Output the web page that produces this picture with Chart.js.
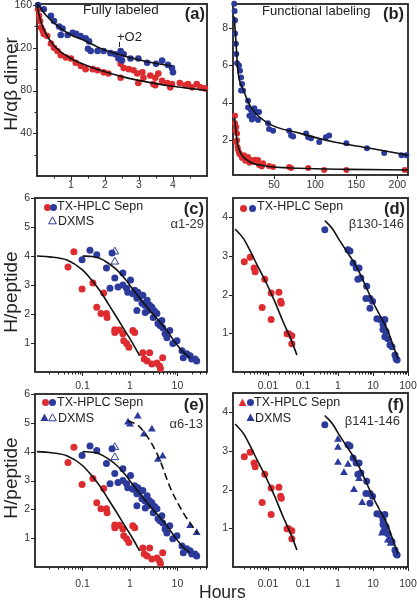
<!DOCTYPE html>
<html><head><meta charset="utf-8">
<script src="https://cdn.jsdelivr.net/npm/chart.js@4.4.1/dist/chart.umd.min.js"></script>
<style>
body{margin:0;background:#fff;}
#wrap{position:relative;width:417px;height:600px;overflow:hidden;font-family:"Liberation Sans",Arial,sans-serif;color:#222;}
canvas{position:absolute;left:0;top:0;}
.t{position:absolute;white-space:nowrap;line-height:1;}
.b{font-weight:bold;font-size:16.5px;}
.lg{font-size:12.5px;}
.pep{font-size:13px;color:#333;}
.ax{position:absolute;white-space:nowrap;line-height:1;font-size:19px;transform:translate(-50%,-50%) rotate(-90deg);}
.dot{position:absolute;width:7px;height:7px;border-radius:50%;margin:-3.5px 0 0 -3.5px;}
svg{position:absolute;overflow:visible;}
</style></head>
<body>
<div id="wrap">
<canvas id="ca" width="417" height="600"></canvas>
<canvas id="cb" width="417" height="600"></canvas>
<canvas id="cc" width="417" height="600"></canvas>
<canvas id="cd" width="417" height="600"></canvas>
<canvas id="ce" width="417" height="600"></canvas>
<canvas id="cf" width="417" height="600"></canvas>

<div class="ax" style="left:10px;top:84px">H/αβ dimer</div>
<div class="ax" style="left:10px;top:292px">H/peptide</div>
<div class="ax" style="left:10px;top:478px">H/peptide</div>
<div class="t" style="left:199px;top:584px;font-size:17.5px">Hours</div>

<div class="t" style="left:83px;top:3px;font-size:13.5px">Fully labeled</div>
<div class="t b" style="right:212px;top:5px">(a)</div>
<div class="t" style="left:117px;top:30px;font-size:13px">+O2</div>
<div style="position:absolute;left:119px;top:42px;width:1px;height:5px;background:#222"></div>

<div class="t" style="left:262px;top:4px;font-size:13px">Functional labeling</div>
<div class="t b" style="right:13px;top:5px">(b)</div>

<div class="dot" style="left:47px;top:207px;background:#dd2c2f"></div>
<div class="dot" style="left:53px;top:207px;background:#2c3a9c"></div>
<div class="t lg" style="left:57px;top:200px">TX-HPLC Sepn</div>
<svg style="left:48px;top:216px" width="9" height="9"><polygon points="4.5,0.8 8.3,7.8 0.7,7.8" fill="none" stroke="#2c3a9c" stroke-width="1"/></svg>
<div class="t lg" style="left:58px;top:215px">DXMS</div>
<div class="t b" style="right:213px;top:200px">(c)</div>
<div class="t pep" style="right:213px;top:217px">α1-29</div>

<div class="dot" style="left:243px;top:208px;background:#dd2c2f"></div>
<div class="dot" style="left:252px;top:208px;background:#2c3a9c"></div>
<div class="t lg" style="left:257px;top:200px">TX-HPLC Sepn</div>
<div class="t b" style="right:12px;top:200px">(d)</div>
<div class="t pep" style="right:13px;top:217px">β130-146</div>

<div class="dot" style="left:45px;top:402px;background:#dd2c2f"></div>
<div class="dot" style="left:52px;top:402px;background:#2c3a9c"></div>
<div class="t lg" style="left:57px;top:396px">TX-HPLC Sepn</div>
<svg style="left:40px;top:413px" width="9" height="9"><polygon points="4.5,0.5 8.5,8 0.5,8" fill="#2c3a9c"/></svg>
<svg style="left:48px;top:413px" width="9" height="9"><polygon points="4.5,0.8 8.3,7.8 0.7,7.8" fill="none" stroke="#2c3a9c" stroke-width="1"/></svg>
<div class="t lg" style="left:58px;top:412px">DXMS</div>
<div class="t b" style="right:213px;top:396px">(e)</div>
<div class="t pep" style="right:214px;top:417px">α6-13</div>

<svg style="left:238px;top:398px" width="9" height="9"><polygon points="4.5,0.5 8.5,8 0.5,8" fill="#dd2c2f"/></svg>
<div class="dot" style="left:250px;top:402px;background:#2c3a9c"></div>
<div class="t lg" style="left:254px;top:396px">TX-HPLC Sepn</div>
<svg style="left:246px;top:413px" width="9" height="9"><polygon points="4.5,0.5 8.5,8 0.5,8" fill="#2c3a9c"/></svg>
<div class="t lg" style="left:255px;top:412px">DXMS</div>
<div class="t b" style="right:13px;top:396px">(f)</div>
<div class="t pep" style="right:17px;top:414px">β141-146</div>
</div>

<script>
const RED = '#dd2c2f';
const BLUE = '#2c3a9c';
const FONT = '"Liberation Sans", Arial, sans-serif';

// (a) fully labeled, hours vs H per dimer
const aBlue = [[0.03,160],[0.2,156],[0.41,150],[0.5,145],[0.65,140],[0.75,138],[0.7,132],[0.9,132],[1.05,134],[1.15,133],[1.28,131],[1.43,129],[1.53,126],[1.5,119],[1.58,117],[1.78,117],[1.96,117],[2.16,115],[2.3,114],[2.46,117],[2.55,114],[2.4,110],[2.5,108],[2.75,110],[2.98,110],[3.24,106],[3.5,105],[3.68,108],[3.85,104],[3.97,101],[4.0,97]];
const aRed = [[0.03,156],[0.06,150],[0.09,145],[0.12,139],[0.17,136],[0.2,133],[0.3,131],[0.41,124],[0.5,120],[0.6,117],[0.7,113],[0.85,111],[1.0,110],[1.14,106],[1.29,103],[1.43,100],[1.64,100],[1.78,99],[1.96,97],[2.1,96],[2.46,92],[2.98,87],[3.48,85],[3.92,83],
  [2.4,110],[2.46,105],[2.55,101],[2.7,100],[2.84,99],[2.95,96],[3.1,97],[3.13,92],[3.33,94],[3.48,92],[3.57,96],[3.68,89],[3.42,86],[3.83,87],[3.97,86],[4.2,87],[4.36,85],[4.44,86],[4.56,83],[4.7,86],[4.8,83],[4.94,82]];
const aFitBlue = [[0,162],[0.25,151],[0.55,142],[1,132],[1.38,127],[1.9,119],[2.4,114],[2.84,110],[3.4,106],[3.97,103]];
const aFitRed = [[0,160],[0.1,146],[0.25,134],[0.5,122],[1,110],[1.5,103],[2,97.5],[2.5,93],[3,89.5],[3.5,86.5],[4,84],[4.5,82],[5,80]];

// (b) functional labeling
const bBlue = [[1.5,9.28],[2,8.9],[2.5,8.4],[2.5,7.7],[3.5,7.15],[4,6.6],[5,6.1],[7.3,5.98],[8.5,5.7],[9.8,5.35],[11,5.0],[9.8,4.65],[12.2,4.65],[18.3,4.1],[18.3,3.75],[20,3.3],[22,3.6],[23,3.1],[24.4,3.4],[25.6,3.2],[26,3.7],[28,3.5],[31.7,3.5],[30.5,3.07],[42.7,2.9],[43.9,2.6],[48.8,2.5],[68.3,2.5],[70.7,2.25],[73.2,2.2],[89,2.35],[91.5,2.15],[95,2.1],[105,1.9],[113,2.15],[117,2.25],[138,1.83],[163,1.57],[184,1.32],[205,1.2],[211,1.2]];
const bRed = [[2.5,3.3],[2.5,2.9],[3,2.5],[4,2.7],[5,2.35],[3.5,1.9],[5,2.0],[5.5,1.63],[6,1.5],[7.3,1.36],[8,1.25],[9.8,1.2],[11,1.05],[13.4,1.2],[15,0.9],[18.3,1.1],[20,0.8],[22,0.94],[25.6,0.83],[27,0.95],[30.5,0.94],[31.7,0.67],[35,0.6],[36.6,0.77],[43.9,0.62],[48.8,0.57],[68.3,0.57],[70.7,0.51],[91.5,0.51],[111,0.41],[138,0.41],[209,0.41]];
const bFitBlue = [[1.5,8.6],[3.5,7.3],[6,5.7],[13,4.65],[22,3.75],[43,2.9],[83,2.35],[123,1.9],[165,1.58],[213,1.2]];
const bFitRed = [[2,3.2],[4,2.3],[6,1.7],[10,1.25],[20,0.85],[40,0.62],[80,0.5],[140,0.44],[213,0.41]];

// (c) and (e) alpha peptides, TX-HPLC
const alphaRed = [[0.0496,3.62],[0.066,4.15],[0.098,2.86],[0.166,3.07],[0.2,2.23],[0.245,2.02],[0.28,2.72],[0.32,2.02],[0.33,1.88],[0.48,1.46],[0.48,1.36],[0.6,1.45],[0.71,1.32],[0.74,1.08],[0.85,0.98],[0.95,0.85],[1.15,1.43],[1.26,1.36],[1.87,0.66],[2.0,0.45],[2.3,0.38],[2.6,0.66],[2.9,0.28],[3.7,0.31],[4.2,0.21],[4.4,0.12],[4.9,0.49]];
const alphaBlue = [[0.098,3.87],[0.144,4.2],[0.2,4.04],[0.32,3.59],[0.38,2.89],[0.42,4.1],[0.48,3.24],[0.56,2.93],[0.71,3.41],[0.71,3.0],[0.85,2.89],[1.03,3.17],[0.9,2.75],[1.15,2.7],[1.26,2.82],[1.4,2.54],[1.47,2.75],[1.6,2.6],[1.79,2.37],[1.87,2.65],[2.06,2.3],[2.1,2.05],[2.3,2.47],[2.4,2.12],[1.4,2.12],[2.6,2.3],[2.9,2.23],[3.1,1.88],[3.3,2.1],[3.7,2.02],[3.9,1.67],[4.3,1.6],[4.9,1.53],[4.7,1.78],[5.5,1.32],[6.0,1.18],[6.9,1.43],[8.0,0.98],[9.8,1.08],[12.5,0.73],[13.3,0.49],[15.7,0.63],[18.5,0.56],[20,0.45],[23.5,0.45],[25.5,0.38]];
const alphaDxmsOpen = [[0.48,4.15],[0.48,3.8]];
const alphaFitRed = [[0.011,4.0],[0.02,3.97],[0.047,3.86],[0.1,3.52],[0.16,3.15],[0.23,2.82],[0.35,2.35],[0.53,1.88],[0.8,1.4],[1.15,0.98],[1.6,0.56]];
const alphaFitBlue = [[0.1,4.0],[0.16,3.98],[0.23,3.92],[0.35,3.75],[0.53,3.52],[0.8,3.2],[1.15,2.85],[1.8,2.45],[2.6,2.12],[4,1.78],[6.0,1.43],[9,1.02],[12.5,0.73],[18.5,0.49]];
const eDxms = [[0.91,5.02],[1.0,4.95],[1.46,5.23],[1.97,4.6],[2.9,4.78],[3.9,3.73],[4.9,3.84],[18.5,1.43],[25.5,1.19]];
const eDxmsFit = [[0.91,5.06],[1.5,4.9],[2.3,4.53],[3.3,4.1],[4.3,3.7],[6.9,2.79],[13.3,1.88],[27,1.15]];

// (d) and (f) beta peptides
const betaRed = [[0.0021,2.85],[0.0031,2.97],[0.004,2.69],[0.0043,2.59],[0.0081,2.4],[0.0068,1.67],[0.0123,2.04],[0.0123,1.36],[0.0205,2.06],[0.023,1.83],[0.024,1.78],[0.035,0.99],[0.039,0.99],[0.048,0.94],[0.048,0.73]];
const betaBlue = [[0.42,3.68],[1.93,3.16],[2.2,3.13],[2.7,2.82],[3.3,2.69],[4.0,2.69],[3.7,2.4],[4.5,2.43],[6.6,2.22],[6.3,1.9],[8.2,1.9],[9.7,1.83],[8.2,1.65],[12.9,1.38],[15.8,1.36],[21.8,1.36],[19.3,1.23],[19.3,1.1],[23.5,1.04],[21.8,0.91],[26.6,0.86],[30.6,0.7],[34.9,0.65],[42.4,0.44],[45.6,0.34],[48.9,0.31]];
const betaFitRed = [[0.00115,3.7],[0.002,3.45],[0.0031,3.13],[0.005,2.75],[0.0093,2.27],[0.016,1.8],[0.027,1.3],[0.045,0.85],[0.067,0.44]];
const betaFitBlue = [[0.42,3.92],[0.7,3.7],[1.13,3.39],[2,3.05],[3.5,2.69],[6,2.25],[9.7,1.83],[15,1.5],[25,1.12],[40,0.62],[52,0.34]];
const fDxms = [[1.0,3.3],[1.0,3.09],[1.0,2.7],[1.48,2.44],[1.93,2.65],[2.86,2.0],[4.0,2.28],[4.9,1.66],[18,0.87],[19.3,0.95],[26.6,0.69],[32,0.61]];

// tick labels
const aXLabels = [1, 2, 3, 4];
const aYLabels = [40, 80, 120, 160];
const bXLabels = [50, 100, 150, 200];
const bYLabels = [2, 4, 6, 8];
const alphaXLabels = [0.1, 1, 10];
const betaXLabels = [0.01, 0.1, 1, 10, 100];
const pepY6 = [1, 2, 3, 4, 5, 6];
const pepY4 = [1, 2, 3, 4];

function logMinor(lo, hi) {
  const out = [];
  for (let e = lo; e < hi; e++) for (let m = 2; m <= 9; m++) out.push(m * Math.pow(10, e));
  return out;
}

const boxTicks = {
  id: 'boxTicks',
  beforeDatasetsDraw(chart, args, opts) {
    const {ctx, chartArea: a, scales} = chart;
    const x = scales.x, y = scales.y;
    ctx.save();
    ctx.strokeStyle = '#222';
    ctx.lineWidth = 1;
    const tick = (s, vals, len) => {
      vals.forEach(v => {
        if (v < s.min || v > s.max) return;
        const p = Math.round(s.getPixelForValue(v)) + 0.5;
        ctx.beginPath();
        if (s.isHorizontal()) { ctx.moveTo(p, a.bottom); ctx.lineTo(p, a.bottom + len); }
        else { ctx.moveTo(a.left, p); ctx.lineTo(a.left - len, p); }
        ctx.stroke();
      });
    };
    tick(x, x.ticks.map(t => t.value), 4);
    tick(x, opts.xMinor || [], 2.5);
    tick(y, y.ticks.map(t => t.value), 4);
    tick(y, opts.yMinor || [], 2.5);
    ctx.lineWidth = 1.8;
    ctx.strokeRect(a.left, a.top, a.right - a.left, a.bottom - a.top);
    ctx.restore();
  }
};

const pts = arr => arr.map(p => ({x: p[0], y: p[1]}));
const dots = (arr, color, r) => ({data: pts(arr), backgroundColor: color, borderWidth: 0, pointRadius: r, showLine: false, clip: false});
const tris = (arr, color, r, open) => ({data: pts(arr), pointStyle: 'triangle', pointRadius: r, backgroundColor: open ? 'rgba(255,255,255,0)' : color, borderColor: color, borderWidth: open ? 1 : 0, showLine: false, clip: false});
const fit = (arr, dash) => ({data: pts(arr), showLine: true, pointRadius: 0, borderColor: '#111', borderWidth: 1.6, borderDash: dash || [], tension: 0.4, cubicInterpolationMode: 'monotone', fill: false, clip: false});

function axis(o, horiz) {
  return {
    type: o.type || 'linear', min: o.min, max: o.max, bounds: 'data',
    grid: {display: false, drawTicks: false}, border: {display: false},
    ticks: {autoSkip: false, maxRotation: 0, minRotation: 0, padding: o.pad, color: '#333',
      font: {family: FONT, size: 10.5}, callback: v => String(v)},
    afterBuildTicks: s => { s.ticks = o.labels.map(v => ({value: v})); },
    afterFit: s => {
      if (horiz) s.height = 20; else s.width = 30;
      s.paddingLeft = 0; s.paddingRight = 0; s.paddingTop = 0; s.paddingBottom = 0;
    }
  };
}

function makeChart(id, box, xo, yo, datasets, minor) {
  new Chart(document.getElementById(id), {
    type: 'scatter',
    data: {datasets},
    options: {
      responsive: false, animation: false, events: [],
      layout: {padding: {left: box.l - 30, top: box.t, right: 417 - box.r, bottom: 580 - box.b}},
      plugins: {legend: {display: false}, tooltip: {enabled: false}, boxTicks: minor},
      scales: {x: axis(xo, true), y: axis(yo, false)}
    },
    plugins: [boxTicks]
  });
}

makeChart('ca', {l: 37, t: 3, r: 207, b: 176},
  {min: 0, max: 5, labels: aXLabels, pad: 3},
  {min: 0, max: 161, labels: aYLabels, pad: 5},
  [fit(aFitBlue), fit(aFitRed), dots(aBlue, BLUE, 3.3), dots(aRed, RED, 3.3)],
  {xMinor: [0.5, 1.5, 2.5, 3.5, 4.5], yMinor: [20, 60, 100, 140]});

makeChart('cb', {l: 233, t: 3, r: 408, b: 175},
  {min: 0, max: 213, labels: bXLabels, pad: 3.5},
  {min: 0.14, max: 9.27, labels: bYLabels, pad: 5},
  [fit(bFitBlue), fit(bFitRed), dots(bBlue, BLUE, 3), dots(bRed, RED, 3)],
  {});

makeChart('cc', {l: 35, t: 198, r: 207, b: 372},
  {type: 'logarithmic', min: 0.01, max: 42, labels: alphaXLabels, pad: 7.5},
  {min: 0, max: 6, labels: pepY6, pad: 5},
  [fit(alphaFitRed), fit(alphaFitBlue), tris(alphaDxmsOpen, BLUE, 4.5, true), dots(alphaBlue, BLUE, 3.5), dots(alphaRed, RED, 3.5)],
  {xMinor: logMinor(-2, 2)});

makeChart('cd', {l: 233, t: 198, r: 408, b: 372},
  {type: 'logarithmic', min: 0.001, max: 100, labels: betaXLabels, pad: 7.5},
  {min: 0, max: 4.5, labels: pepY4, pad: 5},
  [fit(betaFitRed), fit(betaFitBlue), dots(betaBlue, BLUE, 3.5), dots(betaRed, RED, 3.5)],
  {xMinor: logMinor(-3, 2)});

makeChart('ce', {l: 35, t: 394, r: 207, b: 567},
  {type: 'logarithmic', min: 0.01, max: 42, labels: alphaXLabels, pad: 11},
  {min: 0, max: 6, labels: pepY6, pad: 5},
  [fit(alphaFitRed), fit(alphaFitBlue), fit(eDxmsFit, [7, 4]), tris(eDxms, BLUE, 4.5, false), tris(alphaDxmsOpen, BLUE, 4.5, true), dots(alphaBlue, BLUE, 3.5), dots(alphaRed, RED, 3.5)],
  {xMinor: logMinor(-2, 2)});

makeChart('cf', {l: 233, t: 393, r: 408, b: 567},
  {type: 'logarithmic', min: 0.001, max: 100, labels: betaXLabels, pad: 10.5},
  {min: 0, max: 4.5, labels: pepY4, pad: 5},
  [fit(betaFitRed), fit(betaFitBlue), tris(fDxms, BLUE, 4.5, false), dots(betaBlue, BLUE, 3.5), dots(betaRed, RED, 3.5)],
  {xMinor: logMinor(-3, 2)});
</script>
</body></html>
